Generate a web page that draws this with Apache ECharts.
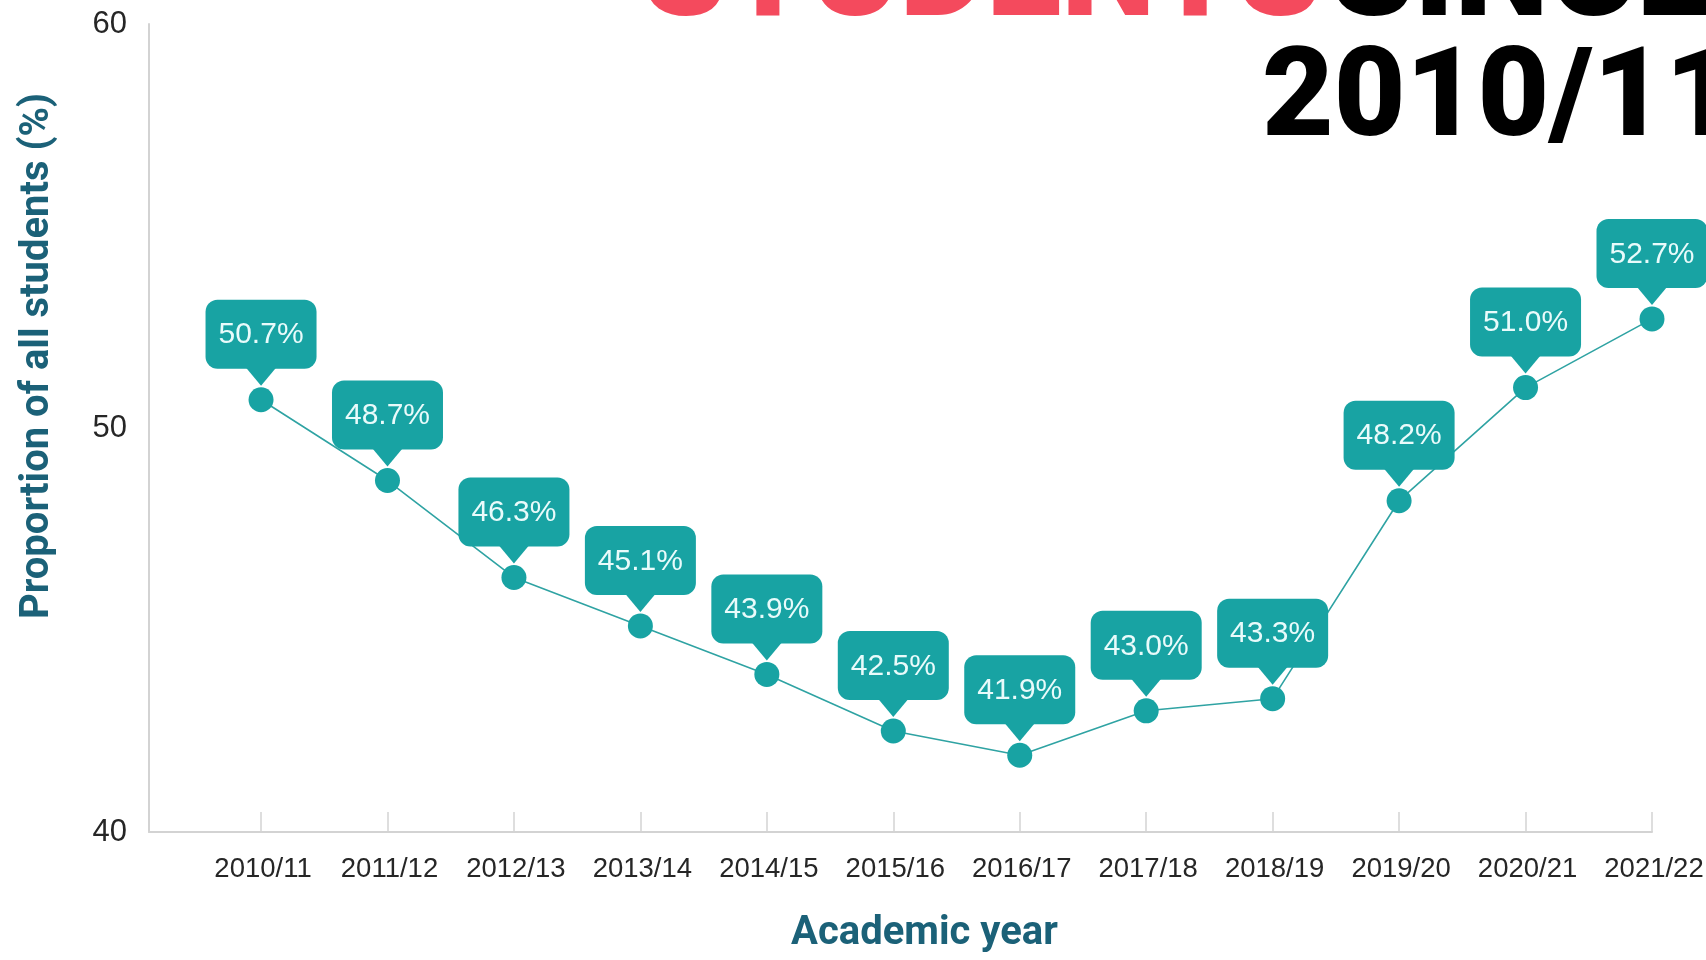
<!DOCTYPE html>
<html>
<head>
<meta charset="utf-8">
<title>Proportion of all students</title>
<script src="https://cdn.jsdelivr.net/npm/echarts@6/dist/echarts.min.js"></script>
<style>
  html, body { margin: 0; padding: 0; background: #ffffff; }
  #chart { width: 1706px; height: 960px; }
</style>
</head>
<body>
<div id="chart"></div>
<script>
// Academic years on the x axis
const years = ['2010/11', '2011/12', '2012/13', '2013/14', '2014/15', '2015/16',
               '2016/17', '2017/18', '2018/19', '2019/20', '2020/21', '2021/22'];
// Proportion of all students (%)
const shares = [50.7, 48.7, 46.3, 45.1, 43.9, 42.5, 41.9, 43.0, 43.3, 48.2, 51.0, 52.7];
// Y axis tick values
const yTicks = [40, 50, 60];

const TEAL = '#18a3a3';
const LABEL_TEXT = '#e9fbfb';
const NAME_COLOR = '#1b6178';
const AXIS_GREY = '#d3d3d3';

const chart = echarts.init(document.getElementById('chart'), null, { renderer: 'canvas' });

const points = shares.map((v, i) => [i, v]);
const yearIdx = years.map((_, i) => i);

// Speech-bubble callout above each point: rounded box, pointer and value text
function renderCallout(params, api) {
  const p = api.coord([api.value(0), api.value(1)]);
  const x = p[0], y = p[1];
  const w = 111, h = 69, gap = 31, tip = 14, half = 15;
  const top = y - gap - h;
  return {
    type: 'group',
    children: [
      {
        type: 'rect',
        shape: { x: x - w / 2, y: top, width: w, height: h, r: 12 },
        style: { fill: TEAL }
      },
      {
        type: 'polygon',
        shape: { points: [[x - half, y - gap - 1], [x + half, y - gap - 1], [x, y - tip]] },
        style: { fill: TEAL }
      },
      {
        type: 'text',
        x: x,
        y: top + h / 2 + 1,
        style: {
          text: api.value(1).toFixed(1) + '%',
          fill: LABEL_TEXT,
          fontSize: 30,
          fontFamily: '"Liberation Sans", Arial, sans-serif',
          align: 'center',
          verticalAlign: 'middle'
        }
      }
    ]
  };
}

const titleFont = 'Roboto, "Liberation Sans", sans-serif';

const option = {
  backgroundColor: '#ffffff',
  animation: false,
  grid: {
    left: 149,
    right: 54,
    top: 24,
    bottom: 128,
    containLabel: false,
    outerBoundsMode: 'none'
  },
  xAxis: {
    type: 'value',
    min: -0.886,
    max: 11,
    splitLine: { show: false },
    axisLine: { show: true, onZero: false, lineStyle: { color: AXIS_GREY, width: 2 } },
    axisTick: {
      show: true,
      inside: true,
      length: 20,
      customValues: yearIdx,
      lineStyle: { color: AXIS_GREY, width: 1.5 }
    },
    axisLabel: {
      customValues: yearIdx,
      formatter: (v) => years[Math.round(v)],
      fontSize: 27.5,
      fontFamily: '"Liberation Sans", Arial, sans-serif',
      color: '#262626',
      margin: 23,
      padding: [0, 0, 0, 4]
    },
    name: 'Academic year',
    nameLocation: 'middle',
    nameGap: 82,
    nameTextStyle: {
      fontSize: 40,
      fontWeight: 'bold',
      fontFamily: 'Roboto, "Liberation Sans", sans-serif',
      color: NAME_COLOR,
      padding: [0, 0, 0, 48]
    }
  },
  yAxis: {
    type: 'value',
    min: yTicks[0],
    max: yTicks[yTicks.length - 1],
    interval: yTicks[1] - yTicks[0],
    splitLine: { show: false },
    axisLine: { show: true, onZero: false, lineStyle: { color: AXIS_GREY, width: 2 } },
    axisTick: { show: false },
    axisLabel: {
      fontSize: 31,
      fontFamily: '"Liberation Sans", Arial, sans-serif',
      color: '#262626',
      margin: 22
    },
    name: 'Proportion of all students (%)',
    nameLocation: 'middle',
    nameRotate: 90,
    nameGap: 91,
    nameTextStyle: {
      fontSize: 40,
      fontWeight: 'bold',
      fontFamily: 'Roboto, "Liberation Sans", sans-serif',
      color: NAME_COLOR,
      padding: [0, 0, 0, 144]
    }
  },
  graphic: [
    {
      type: 'text',
      x: 642,
      y: -19,
      style: {
        text: 'STUDENTS',
        fill: '#f44a5d',
        fontSize: 134,
        fontWeight: 900,
        fontFamily: titleFont,
        verticalAlign: 'middle'
      }
    },
    {
      type: 'text',
      x: 1330,
      y: -19,
      style: {
        text: 'SINCE',
        fill: '#000000',
        fontSize: 134,
        fontWeight: 900,
        fontFamily: titleFont,
        verticalAlign: 'middle'
      }
    },
    {
      type: 'text',
      x: 1262,
      y: 104,
      style: {
        text: '2010/11',
        fill: '#000000',
        fontSize: 124,
        fontWeight: 900,
        fontFamily: titleFont,
        verticalAlign: 'middle'
      }
    }
  ],
  series: [
    {
      type: 'line',
      data: points,
      symbol: 'circle',
      symbolSize: 25,
      itemStyle: { color: TEAL },
      lineStyle: { color: '#2fa3a3', width: 1.6 },
      z: 2
    },
    {
      type: 'custom',
      data: points,
      renderItem: renderCallout,
      clip: false,
      z: 3
    }
  ]
};

chart.setOption(option);
</script>
</body>
</html>
